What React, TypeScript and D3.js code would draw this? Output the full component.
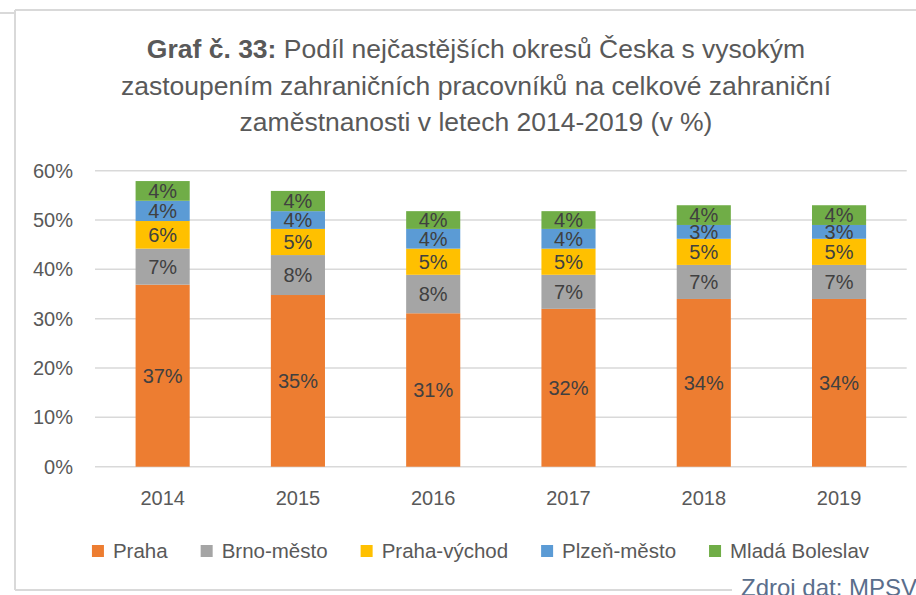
import React, { useEffect, useRef } from "react";
import * as d3 from "d3";

const years = ["2014", "2015", "2016", "2017", "2018", "2019"];
const seriesNames = ["Praha", "Brno-město", "Praha-východ", "Plzeň-město", "Mladá Boleslav"];
const seriesColors = ["#ED7D31", "#A5A5A5", "#FFC000", "#5B9BD5", "#70AD47"];
const praha = [36.9, 34.8, 31.1, 32.0, 34.0, 34.0];
const brno = [7.3, 8.1, 7.8, 6.9, 6.9, 6.9];
const prahaVychod = [5.6, 5.3, 5.3, 5.3, 5.3, 5.3];
const plzen = [4.1, 3.6, 4.0, 4.0, 2.8, 2.8];
const mladaBoleslav = [4.0, 4.1, 3.6, 3.6, 4.0, 4.0];
const yTicks = [0, 10, 20, 30, 40, 50, 60];
const titleBold = "Graf č. 33:";
const titleLines = [
  " Podíl nejčastějších okresů Česka s vysokým",
  "zastoupením zahraničních pracovníků na celkové zahraniční",
  "zaměstnanosti v letech 2014-2019 (v %)",
];
const sourceText = "Zdroj dat: MPSV";

const FONT = "'Liberation Sans', Arial, sans-serif";

export default function App() {
  const ref = useRef<SVGSVGElement>(null);

  useEffect(() => {
    const svg = d3.select(ref.current);
    svg.selectAll("*").remove();
    const W = 916;

    const border = "#d9d9d9";
    svg.append("line").attr("x1", 15).attr("x2", W).attr("y1", 10).attr("y2", 10).attr("stroke", border).attr("stroke-width", 2);
    svg.append("line").attr("x1", 0).attr("x2", 15).attr("y1", 13).attr("y2", 13).attr("stroke", border).attr("stroke-width", 2);
    svg.append("line").attr("x1", 15).attr("x2", 15).attr("y1", 10).attr("y2", 590).attr("stroke", border).attr("stroke-width", 2);
    svg.append("line").attr("x1", 15).attr("x2", 732).attr("y1", 590).attr("y2", 590).attr("stroke", border).attr("stroke-width", 2);

    // title
    const titleX = 476;
    const titleYs = [58, 95, 131];
    const fs = 26.5;
    const t1 = svg.append("text").attr("x", titleX).attr("y", titleYs[0]).attr("text-anchor", "middle")
      .attr("font-family", FONT).attr("font-size", fs).attr("fill", "#595959");
    t1.append("tspan").attr("font-weight", "bold").text(titleBold);
    t1.append("tspan").text(titleLines[0]);
    titleLines.slice(1).forEach((l, i) => {
      svg.append("text").attr("x", titleX).attr("y", titleYs[i + 1]).attr("text-anchor", "middle")
        .attr("font-family", FONT).attr("font-size", fs).attr("fill", "#595959").text(l);
    });

    const x = d3.scaleBand().domain(years).range([95, 906.7]).paddingInner(0.6).paddingOuter(0.3);
    const y = d3.scaleLinear().domain([0, 60]).range([466.7, 170.7]);

    // grid
    svg.append("g").selectAll("line").data(yTicks).join("line")
      .attr("x1", 95).attr("x2", 906.7)
      .attr("y1", (d) => y(d)).attr("y2", (d) => y(d))
      .attr("stroke", "#d9d9d9").attr("stroke-width", 1.5);

    svg.append("g").selectAll("text").data(yTicks).join("text")
      .attr("x", 73).attr("y", (d) => y(d) + 7).attr("text-anchor", "end")
      .attr("font-family", FONT).attr("font-size", 20).attr("fill", "#595959")
      .text((d) => d + "%");

    const rows = years.map((yr, i) => ({
      year: yr,
      s0: praha[i], s1: brno[i], s2: prahaVychod[i], s3: plzen[i], s4: mladaBoleslav[i],
    }));
    const keys = ["s0", "s1", "s2", "s3", "s4"];
    const stack = d3.stack<any>().keys(keys)(rows);

    stack.forEach((layer, li) => {
      const g = svg.append("g");
      g.selectAll("rect").data(layer).join("rect")
        .attr("x", (d: any) => x(d.data.year)!)
        .attr("width", x.bandwidth())
        .attr("y", (d: any) => y(d[1]))
        .attr("height", (d: any) => y(d[0]) - y(d[1]))
        .attr("fill", seriesColors[li]);
    });
    stack.forEach((layer) => {
      const g = svg.append("g");
      g.selectAll("text").data(layer).join("text")
        .attr("x", (d: any) => x(d.data.year)! + x.bandwidth() / 2)
        .attr("y", (d: any) => (y(d[0]) + y(d[1])) / 2 + 7)
        .attr("text-anchor", "middle")
        .attr("font-family", FONT).attr("font-size", 20).attr("fill", "#404040")
        .text((d: any) => Math.round(d[1] - d[0]) + "%");
    });

    // x labels
    svg.append("g").selectAll("text").data(years).join("text")
      .attr("x", (d) => x(d)! + x.bandwidth() / 2).attr("y", 505).attr("text-anchor", "middle")
      .attr("font-family", FONT).attr("font-size", 20).attr("fill", "#595959")
      .text((d) => d);

    // legend
    const lg = svg.append("g");
    const items = seriesNames.map((n, i) => {
      const g = lg.append("g");
      g.append("rect").attr("width", 12).attr("height", 12).attr("y", 545).attr("fill", seriesColors[i]);
      const t = g.append("text").attr("x", 21).attr("y", 558).attr("font-family", FONT)
        .attr("font-size", 20.5).attr("fill", "#595959").text(n);
      const w = (t.node() as SVGTextElement).getComputedTextLength();
      return { g, w: 21 + w };
    });
    const gap = 33;
    const total = items.reduce((a, b) => a + b.w, 0) + gap * (items.length - 1);
    let cx = 480.5 - total / 2;
    items.forEach((it) => {
      it.g.attr("transform", `translate(${cx},0)`);
      cx += it.w + gap;
    });

    svg.append("text").attr("x", 741).attr("y", 596).attr("font-family", FONT)
      .attr("font-size", 24).attr("fill", "#5a6e8c").text(sourceText);
  }, []);

  return (
    <svg ref={ref} width={916} height={595}
      style={{ position: "absolute", left: 0, top: 0, background: "#fff" }} />
  );
}
